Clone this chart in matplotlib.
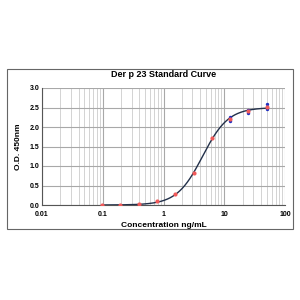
import numpy as np
import matplotlib
matplotlib.use("Agg")
import matplotlib.pyplot as plt
from matplotlib.patches import Rectangle

plt.rcParams['font.family'] = ['Liberation Sans', 'DejaVu Sans']

# standard concentrations (ng/mL) and mean O.D.
conc = [0.098, 0.195, 0.39, 0.78, 1.56, 3.125, 6.25, 12.5, 25, 50]
od_mean = [0.0, 0.01, 0.03, 0.09, 0.28, 0.81, 1.73, 2.21, 2.41, 2.52]
# replicate readings (upper points)
rep_conc = [12.5, 12.5, 25, 25, 50, 50]
rep_od = [2.15, 2.26, 2.37, 2.43, 2.46, 2.6]

# simple 4PL fit by grid search
x = np.array(conc)
y = np.array(od_mean)
best = None
for C in np.linspace(3, 7, 41):
    for B in np.linspace(1.5, 3, 31):
        for D in np.linspace(2.4, 2.7, 16):
            pred = D / (1 + (C / x) ** B)
            err = np.sum((pred - y) ** 2)
            if best is None or err < best[0]:
                best = (err, C, B, D)
_, C, B, D = best
xs = np.logspace(np.log10(conc[0]), np.log10(conc[-1]), 200)
ys = D / (1 + (C / xs) ** B)

fig = plt.figure(figsize=(3, 3), dpi=100)
fig.patches.append(Rectangle((7 / 300, 1 - 229 / 300), 286 / 300, 160 / 300,
                             transform=fig.transFigure, fill=False,
                             edgecolor='#666666', linewidth=0.8))
ax = fig.add_axes([42 / 300, 1 - 205 / 300, 243 / 300, 117 / 300])

ax.plot(xs, ys, color='#22304a', linewidth=1.0, zorder=3)
ax.scatter(rep_conc, rep_od, s=6, color='#1f2fbf', zorder=4, linewidths=0)
ax.scatter(conc, od_mean, s=9, color='#f05a5a', zorder=5, linewidths=0)

ax.set_xscale('log')
ax.set_xlim(0.01, 100)
ax.set_ylim(0, 3.0)
ax.set_yticks(np.arange(0, 3.01, 0.5))
ax.set_yticklabels(['%.1f' % v for v in np.arange(0, 3.01, 0.5)])
ax.set_xticks([0.01, 0.1, 1, 10, 100])
ax.set_xticklabels(['0.01', '0.1', '1', '10', '100'])
ax.grid(True, which='major', color='#a8a8a8', linewidth=0.8)
ax.grid(True, which='minor', axis='x', color='#cccccc', linewidth=0.6)
ax.tick_params(axis='both', which='both', length=0, labelsize=5)
ax.tick_params(axis='x', pad=4)
ax.tick_params(axis='y', pad=2)
for lbl in ax.get_xticklabels() + ax.get_yticklabels():
    lbl.set_fontweight('bold')
for side in ['top', 'right']:
    ax.spines[side].set_visible(False)
for side in ['left', 'bottom']:
    ax.spines[side].set_color('#555555')
    ax.spines[side].set_linewidth(0.8)

ax.set_title('Der p 23 Standard Curve', fontsize=6.5, fontweight='bold', pad=8)
ax.set_xlabel('Concentration ng/mL', fontsize=6, fontweight='bold', labelpad=3)
ax.set_ylabel('O.D. 450nm', fontsize=6, fontweight='bold', labelpad=5)

fig.savefig('out.png', dpi=100)
